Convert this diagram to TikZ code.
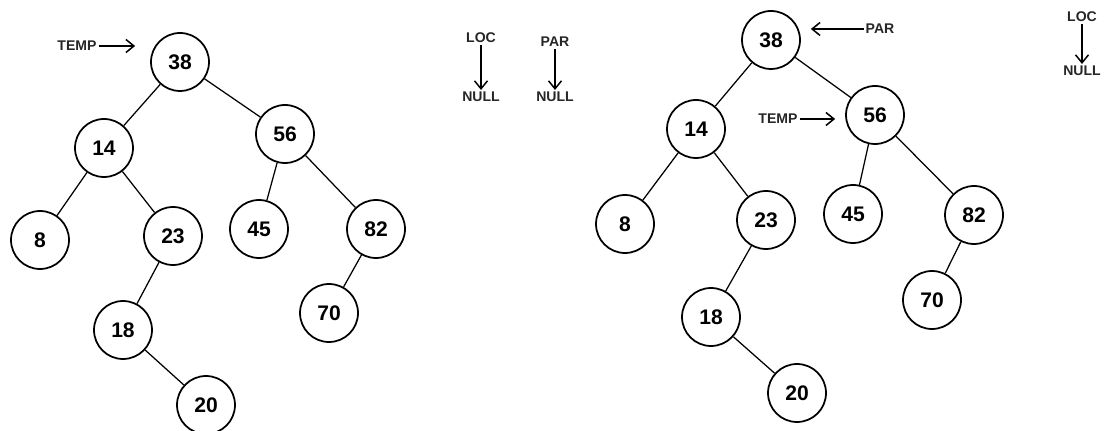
\documentclass[tikz,border=0pt]{standalone}
\usepackage{fontspec}
\setmainfont{Liberation Sans}
\usetikzlibrary{arrows.meta}

\tikzset{
		key/.style={draw, circle, line width=0.35mm, minimum size=1.16cm, inner sep=0pt, font=\bfseries\large},
		lbl/.style={inner sep=1pt, font=\bfseries\footnotesize, text=black!85},
		edge/.style={black, line width=0.25mm},
		arrow/.style={-{Straight Barb[length=1.6mm, width=2.6mm]}, line width=0.3mm}
	}

\begin{document}
\begin{tikzpicture}[x=0.02cm, y=-0.02cm]
	
	\useasboundingbox (0,0) rectangle (1104,431);
	
	% first tree
	\node (a38) at (180,62) [key] {38};
	\node (a14) at (104,148) [key] {14};
	\node (a56) at (285,134) [key] {56};
	\node (a8) at (40,240) [key] {8};
	\node (a23) at (173,236) [key] {23};
	\node (a45) at (259,229) [key] {45};
	\node (a82) at (376,229) [key] {82};
	\node (a70) at (329,313) [key] {70};
	\node (a18) at (123,330) [key] {18};
	\node (a20) at (206,405) [key] {20};
	
	\draw[edge] (a38) -- (a14);
	\draw[edge] (a38) -- (a56);
	\draw[edge] (a14) -- (a8);
	\draw[edge] (a14) -- (a23);
	\draw[edge] (a23) -- (a18);
	\draw[edge] (a18) -- (a20);
	\draw[edge] (a56) -- (a45);
	\draw[edge] (a56) -- (a82);
	\draw[edge] (a82) -- (a70);
	
	\node (tempA) at (77,46) [lbl] {TEMP};
	\draw[arrow, shorten >=3mm] (tempA) -- (tempA -| a38.west);
	
	\node (locA) at (481,38) [lbl] {LOC};
	\node (nullA) at (481,97) [lbl] {NULL};
	\draw[arrow] (locA) -- (nullA);
	\node (parA) at (555,42) [lbl] {PAR};
	\node (nullB) at (555,97) [lbl] {NULL};
	\draw[arrow] (parA) -- (nullB);
	
	% second tree
	\node (b38) at (771,40) [key] {38};
	\node (b14) at (696,129) [key] {14};
	\node (b56) at (875,115) [key] {56};
	\node (b8) at (625,224) [key] {8};
	\node (b23) at (766,220) [key] {23};
	\node (b45) at (853,214) [key] {45};
	\node (b82) at (974,215) [key] {82};
	\node (b70) at (932,300) [key] {70};
	\node (b18) at (711,317) [key] {18};
	\node (b20) at (797,393) [key] {20};
	
	\draw[edge] (b38) -- (b14);
	\draw[edge] (b38) -- (b56);
	\draw[edge] (b14) -- (b8);
	\draw[edge] (b14) -- (b23);
	\draw[edge] (b23) -- (b18);
	\draw[edge] (b18) -- (b20);
	\draw[edge] (b56) -- (b45);
	\draw[edge] (b56) -- (b82);
	\draw[edge] (b82) -- (b70);
	
	\node (parC) at (880,29) [lbl] {PAR};
	\draw[arrow, shorten >=2mm] (parC) -- (parC -| b38.east);
	\node (tempB) at (778,119) [lbl] {TEMP};
	\draw[arrow, shorten >=2mm] (tempB) -- (tempB -| b56.west);
	
	\node (locB) at (1082,17) [lbl] {LOC};
	\node (nullC) at (1082,71) [lbl] {NULL};
	\draw[arrow] (locB) -- (nullC);
	
\end{tikzpicture}
\end{document}
